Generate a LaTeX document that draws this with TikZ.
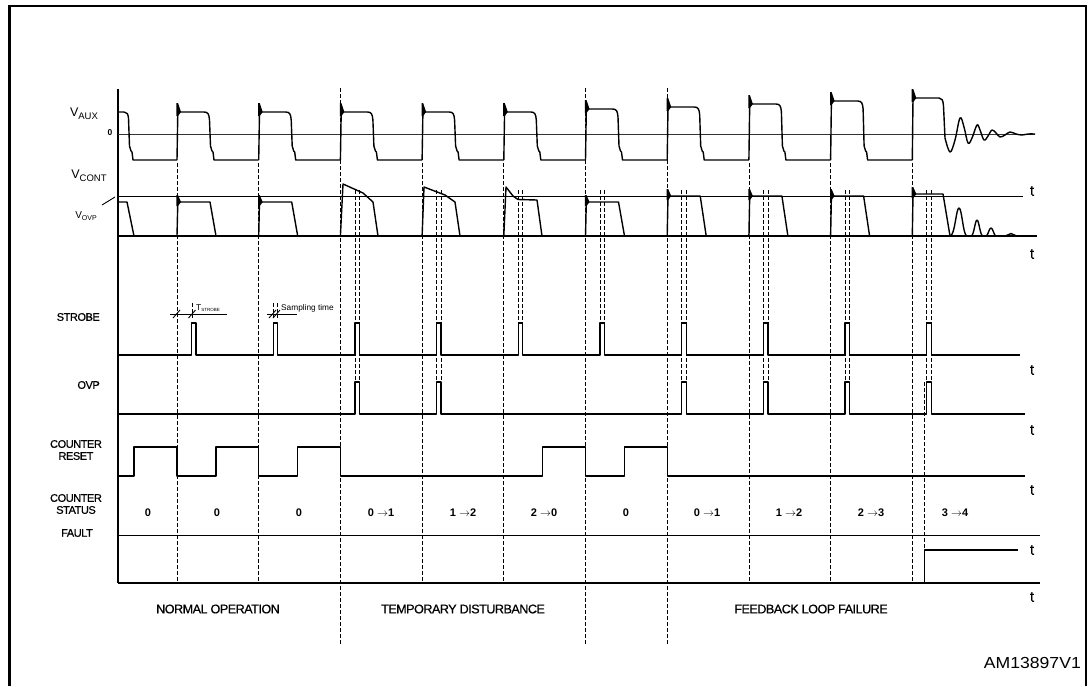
\documentclass[tikz,border=0pt]{standalone}
\usepackage{fontspec}
\setmainfont{Liberation Sans}
\newfontfamily\narrowsf[LetterSpace=-4,FakeBold=0.6]{Liberation Sans}
\newfontfamily\heavysf[FakeBold=0.5]{Liberation Sans}
\usetikzlibrary{arrows.meta,positioning,calc}

\begin{document}
\begin{tikzpicture}[
  x=1pt,y=-1pt,
  wave/.style={line width=1.4pt,line join=round},
  base/.style={line width=0.9pt},
  guide/.style={line width=0.8pt,dash pattern=on 3.5pt off 2.5pt},
  sig/.style={font=\narrowsf\fontsize{11}{12}\selectfont,align=center,inner sep=0pt},
  tlab/.style={font=\heavysf\fontsize{15}{15}\selectfont,inner sep=0pt},
  cnt/.style={font=\bfseries\fontsize{11}{12}\selectfont,inner sep=0pt},
  phase/.style={font=\narrowsf\fontsize{12.6}{13}\selectfont,inner sep=0pt}
]
  \useasboundingbox (0,0) rectangle (1089,686);

  % dashed guides at the edges
  \foreach \k in {2,5,6} {
    \draw[guide] ({177+81.7*\k},88) -- ({177+81.7*\k},645);
  }
  \foreach \k in {0,1,3,4,7,8,9} {
    \draw[guide] ({177+81.7*\k},163) -- ({177+81.7*\k},583);
  }
  \foreach \k/\b in {2/382,3/382,4/355,5/355,6/382,7/382,8/382,9/382} {
    \draw[guide] ({177+81.7*\k+14.5},190) -- ({177+81.7*\k+14.5},\b);
    \draw[guide] ({177+81.7*\k+19},190) -- ({177+81.7*\k+19},\b);
  }
  \draw[guide] (924.8,382) -- (924.8,583);

  % axes and reference lines
  \draw[line width=1.6pt] (118,89) -- (118,583);
  \draw[line width=0.8pt,black!80] (118,134) -- (1035,134);
  \draw[base] (118,196) -- (1023,196);
  \draw[line width=2pt] (118,236) -- (1037,236);
  \draw[base] (118,535) -- (1040,535);
  \draw[line width=2.6pt] (118,583) -- (1040,583);

  % V_AUX
  \draw[wave] (118,112) -- (124,112) .. controls (127,112) and (128,114) .. (128.5,118)
    -- (129.5,146) -- (131,151) -- (132,152) -- (133,160) -- (177,160);
  \foreach \k/\h in {0/112,1/112,2/112,3/112,4/112,5/109,6/107,7/104,8/101} {
    \pgfmathsetmacro\e{177+81.7*\k}
    \draw[wave] (\e,160) -- (\e+0.8,\h) -- (\e+27,\h) .. controls (\e+31,\h) and (\e+32,\h+2) .. (\e+32.5,\h+8)
      -- (\e+33.5,146) -- (\e+35,151) -- (\e+36,152) -- (\e+37,160) -- (\e+81.7,160);
    \fill (\e-0.6,\h-9) -- (\e+1,\h-9) -- (\e+4,\h) -- (\e+1,\h+4) -- (\e-0.6,\h+4) -- cycle;
  }
  \draw[wave] (912.3,160) -- (913,98) -- (939,98) .. controls (942,98) and (943,100) .. (943.5,106)
    -- plot[smooth,tension=0.6] coordinates {(945,138) (950,152) (955,140) (960,118) (964,127) (968,143) (972,138) (977,125) (980,130) (984,140) (988,136) (992,130) (996,133) (1000,137) (1005,135) (1010,132) (1016,134) (1022,135) (1028,134) (1035,134)};
  \fill (911.7,89) -- (913.3,89) -- (916.3,98) -- (913.3,102) -- (911.7,102) -- cycle;

  % V_OVP
  \draw[wave] (118,202) -- (127,202) -- (134,236);
  \foreach \k in {0,1,5} {
    \pgfmathsetmacro\e{177+81.7*\k}
    \draw[wave] (\e,236) -- (\e+0.8,202) -- (\e+33,202) -- (\e+39,236);
    \fill (\e-0.6,195) -- (\e+1,195) -- (\e+4,202) -- (\e+1,206) -- (\e-0.6,206) -- cycle;
  }
  \draw[wave] (340.4,236) -- (343,184) -- (363,193) -- (373,202) -- (378,236);
  \draw[wave] (422.1,236) -- (424,187) -- (445,195) -- (455,202) -- (460,236);
  \draw[wave] (503.8,236) -- (506,187) -- (513,196) -- (518,199.5) -- (537,200) -- (542,236);
  \foreach \k in {6,7,8} {
    \pgfmathsetmacro\e{177+81.7*\k}
    \draw[wave] (\e,236) -- (\e+0.8,196) -- (\e+33,196) -- (\e+39,236);
    \fill (\e-0.6,189) -- (\e+1,189) -- (\e+4,196) -- (\e+1,200) -- (\e-0.6,200) -- cycle;
  }
  \draw[wave] (912.3,236) -- (913,194) -- (943,194) -- (950,236)
    .. controls (955,236) and (956,208) .. (959,208) .. controls (962,208) and (963,236) .. (967,236)
    -- (971,236) .. controls (974,236) and (975,220) .. (977,220) .. controls (979,220) and (980,236) .. (983,236)
    -- (986,236) .. controls (988,236) and (989,228) .. (991,228) .. controls (993,228) and (994,236) .. (996,236)
    -- (1005,236) .. controls (1008,236) and (1009,233.5) .. (1011,233.5) .. controls (1013,233.5) and (1014,236) .. (1017,236);
  \fill (911.7,187) -- (913.3,187) -- (916.3,194) -- (913.3,198) -- (911.7,198) -- cycle;

  % STROBE
  \draw[wave,line width=1.3pt] (118,355) foreach \k in {0,...,9} {
      -- ({177+81.7*\k+14.5},355) -- ({177+81.7*\k+14.5},323) -- ({177+81.7*\k+19},323) -- ({177+81.7*\k+19},355)
    } -- (1020,355);

  % OVP
  \draw[wave,line width=1.3pt] (118,414) foreach \k in {2,3,6,7,8,9} {
      -- ({177+81.7*\k+14.5},414) -- ({177+81.7*\k+14.5},382) -- ({177+81.7*\k+19},382) -- ({177+81.7*\k+19},414)
    } -- (1025,414);

  % COUNTER RESET
  \draw[wave,line width=1.3pt] (118,476) -- (134,476) -- (134,447) -- (177,447) -- (177,476) -- (216,476) -- (216,447)
    -- (258.7,447) -- (258.7,476) -- (297.7,476) -- (297.7,447) -- (340.4,447) -- (340.4,476)
    -- (542.8,476) -- (542.8,447) -- (585.5,447) -- (585.5,476) -- (624.5,476) -- (624.5,447)
    -- (667.2,447) -- (667.2,476) -- (1025,476);

  % FAULT
  \draw[wave,line width=1.8pt] (924.5,583) -- (924.5,550) -- (1018,550);

  % strobe timing marks
  \draw[base] (170,314) -- (227,314);
  \draw[base] (173,318) -- (180,310);
  \draw[base] (188.5,318) -- (195.5,310);
  \draw[guide] (192,303) -- (192,318);
  \node[anchor=west,inner sep=0pt,font=\fontsize{8.5}{9}\selectfont] (tstrobe) at (196,308)
    {T\raisebox{-0.4ex}{\fontsize{4.5}{5}\selectfont STROBE}};
  \draw[base] (267,314) -- (297,314);
  \draw[base] (269,318) -- (276,310);
  \draw[base] (273,318) -- (280,310);
  \draw[guide] (273.2,303) -- (273.2,318);
  \draw[guide] (277.7,303) -- (277.7,318);
  \node[anchor=west,inner sep=0pt,font=\fontsize{8.3}{9}\selectfont] (samp) at (281,308) {Sampling time};

  % signal names
  \node[inner sep=0pt,font=\fontsize{12.5}{13}\selectfont] (vaux) at (84,114)
    {V\raisebox{-0.45ex}{\fontsize{9.5}{9}\selectfont AUX}};
  \node[inner sep=0pt,font=\bfseries\fontsize{8.5}{8}\selectfont] (zero) at (110,133) {0};
  \node[inner sep=0pt,font=\fontsize{12.5}{13}\selectfont] (vcont) at (89,176)
    {V\raisebox{-0.45ex}{\fontsize{9.5}{9}\selectfont CONT}};
  \node[inner sep=0pt,font=\fontsize{10}{10}\selectfont] (vovp) at (86,216)
    {V\raisebox{-0.45ex}{\fontsize{7}{7}\selectfont OVP}};
  \draw[base] (102,205) -- (115,197);
  \node[sig,anchor=east] (strobe) at (100,317) {STROBE};
  \node[sig,anchor=east] (ovp) at (100,385) {OVP};
  \node[sig] (reset) at (76,450) {COUNTER\\RESET};
  \node[sig] (status) at (76,504) {COUNTER\\STATUS};
  \node[sig] (fault) at (77,533) {FAULT};

  % t axis labels
  \foreach \y [count=\n] in {191,254,370,430,490,550,597} {
    \node[tlab] (t\n) at (1032,\y) {t};
  }

  % counter status
  \foreach \x/\txt [count=\n] in {148/0,217/0,299/0,381/0 $\rightarrow$1,463/1 $\rightarrow$2,544/2 $\rightarrow$0,
      626/0,707/0 $\rightarrow$1,789/1 $\rightarrow$2,871/2 $\rightarrow$3,955/3 $\rightarrow$4} {
    \node[cnt] (c\n) at (\x,513) {\txt};
  }

  % phases
  \node[phase] (normal) at (218,609) {NORMAL OPERATION};
  \node[phase] (dist) at (463,609) {TEMPORARY DISTURBANCE};
  \node[phase] (fail) at (811,609) {FEEDBACK LOOP FAILURE};

  % figure code and frame
  \node[anchor=east,inner sep=0pt,font=\fontsize{16}{16}\selectfont] (code) at (1081,663)
    {\scalebox{1.1}[1]{AM13897V1}};
  \draw[line width=2.3pt] (9.5,686) -- (9.5,6.2) -- (1086,6.2) -- (1086,686);
\end{tikzpicture}
\end{document}
